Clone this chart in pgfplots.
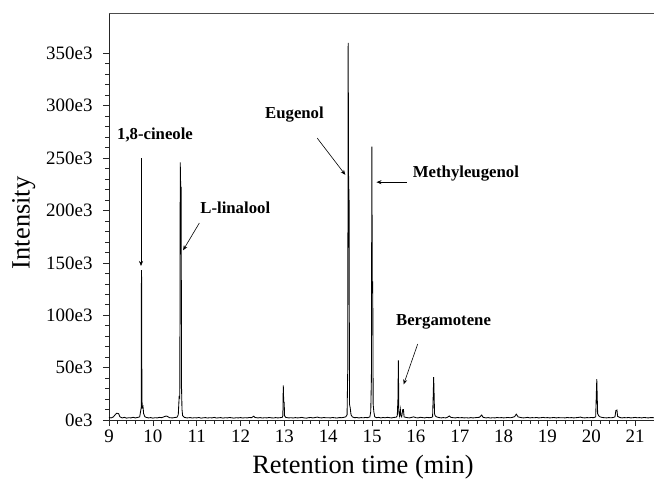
\documentclass[border=0pt]{standalone}
\usepackage{fontspec}
\setmainfont{Liberation Serif}
\usepackage{pgfplots}
\pgfplotsset{compat=1.18}
\usetikzlibrary{arrows.meta}

% retention time (min), intensity (in 1e3)
\pgfplotstableread{
t y
9.00 2.4
9.05 2.0
9.10 3.0
9.15 5.5
9.18 6.5
9.22 6.0
9.25 3.0
9.30 2.0
9.35 2.5
9.40 1.8
9.45 2.2
9.50 2.0
9.55 2.6
9.60 2.0
9.65 2.4
9.70 3.0
9.72 8
9.735 12
9.74 143
9.745 133
9.75 20
9.76 12
9.775 13
9.79 6
9.82 3
9.85 2.5
9.90 2.0
9.95 2.3
10.00 1.8
10.05 2.2
10.10 2.0
10.15 2.5
10.20 2.2
10.25 3.0
10.30 3.8
10.33 3.5
10.38 2.2
10.45 2.0
10.50 2.4
10.55 2.6
10.58 5
10.60 22
10.615 21
10.625 246
10.635 222
10.645 222
10.655 30
10.665 10
10.68 4
10.72 2.5
10.78 2.0
10.85 2.3
10.90 1.9
10.95 2.2
11.00 2.0
11.05 2.4
11.10 1.8
11.15 2.1
11.20 2.3
11.25 1.9
11.30 2.2
11.35 2.0
11.40 2.5
11.45 1.9
11.50 2.1
11.55 2.3
11.60 1.8
11.65 2.2
11.70 2.0
11.75 2.4
11.80 2.1
11.85 1.8
11.90 2.2
11.95 2.0
12.00 2.3
12.05 1.9
12.10 2.2
12.15 2.0
12.20 2.4
12.25 2.2
12.30 3.6
12.33 2.4
12.40 2.0
12.45 2.3
12.50 1.9
12.55 2.2
12.60 2.0
12.65 2.4
12.70 2.1
12.75 1.9
12.80 2.3
12.85 2.0
12.90 2.2
12.95 2.5
12.965 4
12.975 33
12.985 17
12.995 17
13.005 4
13.03 2.5
13.10 2.0
13.15 2.2
13.20 1.9
13.25 2.3
13.30 2.0
13.35 2.2
13.40 2.5
13.45 2.0
13.50 1.8
13.55 2.2
13.60 2.4
13.65 2.0
13.70 2.3
13.75 2.8
13.80 2.2
13.85 2.0
13.90 2.4
13.95 2.1
14.00 2.2
14.05 2.0
14.10 2.4
14.15 2.1
14.20 1.9
14.25 2.3
14.30 2.2
14.35 2.5
14.40 3.0
14.43 5
14.445 48
14.455 360
14.465 220
14.475 220
14.485 15
14.50 12
14.52 5
14.55 3
14.60 2.2
14.65 2.4
14.70 2.0
14.75 2.3
14.80 2.1
14.85 2.4
14.90 2.2
14.95 3.0
14.97 8
14.985 40
14.995 261
15.005 132
15.015 132
15.025 15
15.04 8
15.06 3
15.10 2.2
15.15 2.5
15.20 2.0
15.25 2.4
15.30 2.1
15.35 2.6
15.40 2.2
15.45 2.0
15.50 2.5
15.55 2.6
15.575 4
15.59 20
15.60 57
15.61 8
15.625 4
15.645 10
15.655 4
15.675 3
15.70 10
15.715 10
15.73 3
15.76 2.6
15.80 2.3
15.85 2.0
15.90 2.5
15.95 3.0
16.00 2.2
16.05 2.0
16.10 2.6
16.15 2.3
16.20 2.0
16.25 2.5
16.30 2.2
16.35 2.4
16.38 3
16.395 24
16.405 41
16.415 24
16.425 6
16.44 4
16.47 3
16.52 2.4
16.58 2.0
16.62 2.3
16.68 2.0
16.72 2.6
16.76 3.8
16.80 2.5
16.85 2.2
16.90 2.0
16.95 2.4
17.00 2.1
17.05 2.3
17.10 2.0
17.15 2.2
17.20 1.9
17.25 2.3
17.30 2.0
17.35 2.2
17.40 2.4
17.45 2.6
17.50 4.8
17.53 2.6
17.60 2.0
17.65 2.3
17.70 1.9
17.75 2.2
17.80 2.0
17.85 2.4
17.90 2.1
17.95 2.3
18.00 2.0
18.05 2.2
18.10 2.4
18.15 2.1
18.20 2.5
18.25 3.2
18.29 5.6
18.33 3.0
18.40 2.3
18.45 2.0
18.50 2.2
18.55 2.5
18.60 2.0
18.65 2.3
18.70 2.1
18.75 2.4
18.80 2.0
18.85 2.2
18.90 2.5
18.95 2.1
19.00 2.3
19.05 2.0
19.10 2.2
19.15 2.4
19.20 2.0
19.25 2.3
19.30 2.1
19.35 2.2
19.40 2.0
19.45 2.4
19.50 2.1
19.55 2.3
19.60 2.0
19.65 2.2
19.70 2.4
19.75 2.8
19.80 2.2
19.85 2.0
19.90 2.3
19.95 2.1
20.00 2.4
20.05 2.2
20.10 3
20.115 25
20.125 39
20.135 22
20.145 6
20.17 4
20.20 3
20.25 2.4
20.30 2.2
20.35 2.0
20.40 2.3
20.45 2.1
20.50 2.4
20.54 3
20.56 9
20.585 9.5
20.60 3.5
20.65 2.4
20.70 2.0
20.75 2.3
20.80 2.1
20.85 2.4
20.90 2.0
20.95 2.2
21.00 2.5
21.05 2.1
21.10 2.3
21.15 2.0
21.20 2.4
21.25 2.2
21.30 2.0
21.35 2.3
21.43 2.2
}\chrom

\begin{document}
\begin{tikzpicture}
\begin{axis}[
    name=ax,
    scale only axis,
    width=545bp, height=406.5bp,
    xmin=9, xmax=21.43,
    ymin=0, ymax=388,
    axis x line*=bottom,
    axis y line*=left,
    axis line style={-, line width=0.8pt, black!85},
    xtick={9,10,...,21},
    ytick={0,50,...,350},
    yticklabels={0e3,50e3,100e3,150e3,200e3,250e3,300e3,350e3},
    minor tick num=4,
    tick align=outside,
    major tick length=6bp,
    minor tick length=3.5bp,
    tick style={line width=0.6pt, black!85},
    /pgf/number format/assume math mode=true,
    tick label style={font=\fontsize{19}{22}\selectfont},
    yticklabel style={xshift=-7bp},
    label style={font=\fontsize{26.5}{30}\selectfont},
    xlabel={Retention time (min)},
    ylabel={Intensity},
    xlabel style={at={(ticklabel cs:0.466)}, anchor=north, yshift=-6bp},
    ylabel style={at={(ticklabel cs:0.485)}, anchor=south, yshift=4bp},
    clip=false,
]
\addplot[black, line width=0.85pt] table[x=t, y=y] {\chrom};

\draw[black!70, line width=0.8pt] (rel axis cs:0,1) -- (rel axis cs:1,1);

\tikzset{lab/.style={font=\fontsize{16.8}{19}\selectfont\bfseries},
         arr/.style={-{Stealth[length=5bp,width=4bp]}, line width=0.6pt}}
\node[lab] at (axis cs:10.05,272) {1,8-cineole};
\draw[arr] (axis cs:9.73,250) -- (axis cs:9.73,147);
\node[lab] at (axis cs:11.88,203) {L-linalool};
\draw[arr] (axis cs:11.06,188) -- (axis cs:10.69,162);
\node[lab] at (axis cs:13.23,292) {Eugenol};
\draw[arr] (axis cs:13.75,269) -- (axis cs:14.39,234);
\node[lab] at (axis cs:17.14,235) {Methyleugenol};
\draw[arr] (axis cs:15.79,227) -- (axis cs:15.10,227);
\node[lab] at (axis cs:16.63,93.5) {Bergamotene};
\draw[arr] (axis cs:16.04,72.5) -- (axis cs:15.72,34);
\end{axis}
\pgfresetboundingbox
\path (ax.south west) ++(-109bp,-62bp) coordinate (bl);
\path (ax.north east) ++(0,13.5bp) coordinate (tr);
\path[use as bounding box] (bl) rectangle (tr);
\end{tikzpicture}
\end{document}
